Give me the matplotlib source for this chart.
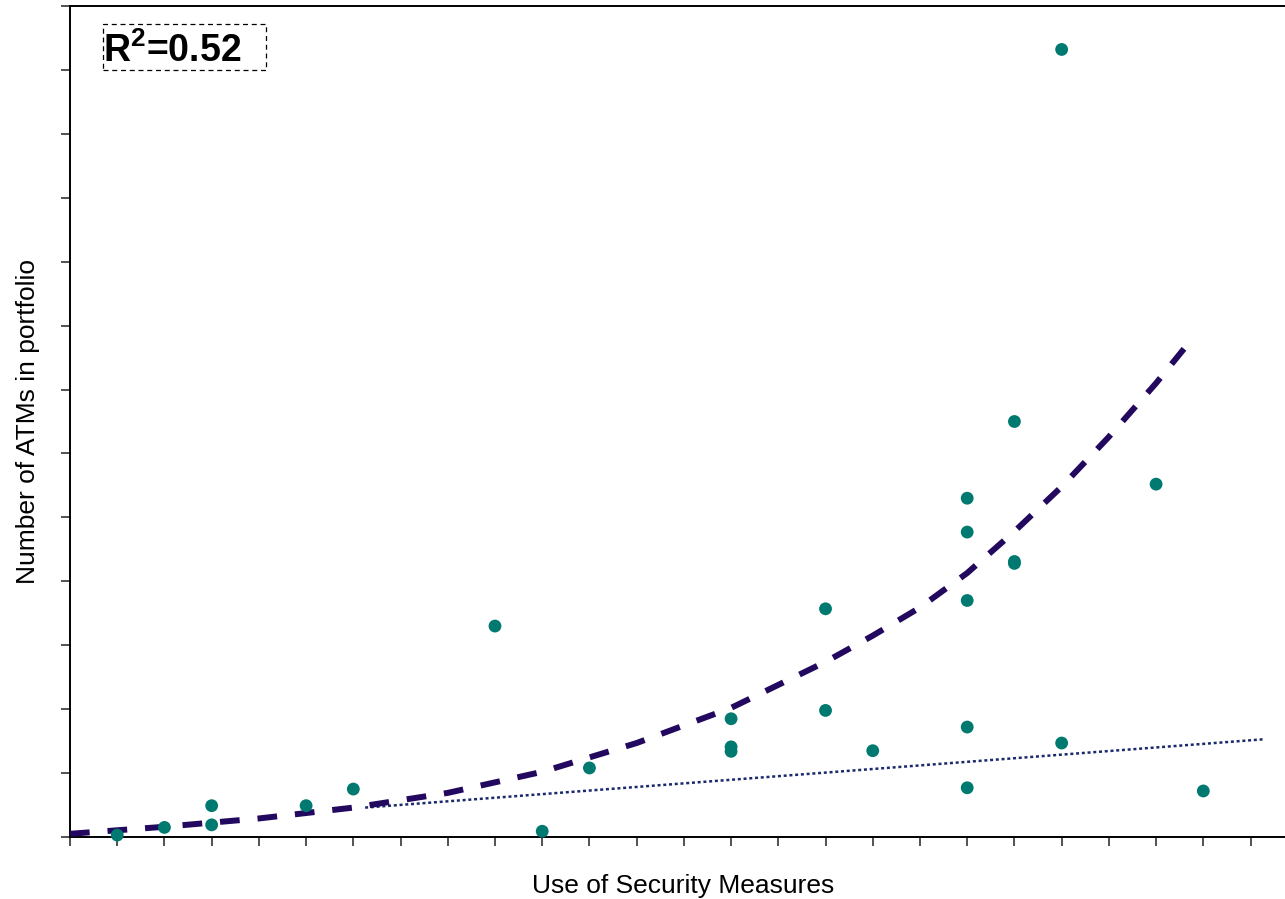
import matplotlib
matplotlib.use("Agg")
from matplotlib import pyplot as plt
from matplotlib.patches import Rectangle

plt.rcParams["font.family"] = ["Liberation Sans", "DejaVu Sans"]
plt.rcParams["mathtext.fontset"] = "custom"
plt.rcParams["mathtext.rm"] = "Liberation Sans"
plt.rcParams["mathtext.bf"] = "Liberation Sans:bold"

# scatter data
x_vals = [1, 2, 3, 3, 5, 6, 9, 10, 11, 14, 14, 14, 16, 16, 17,
          19, 19, 19, 19, 19, 20, 20, 20, 21, 21, 23, 24]
y_vals = [0.03, 0.15, 0.49, 0.19, 0.49, 0.75, 3.30, 0.09, 1.08, 1.85, 1.41, 1.34, 3.57, 1.98, 1.35,
          5.30, 4.77, 3.70, 1.72, 0.77, 6.50, 4.31, 4.28, 12.32, 1.47, 5.52, 0.72]

# curved trend line
trend_x = [0, 2, 4, 6, 8, 10, 12, 14, 16, 17, 18, 19, 20, 21, 22, 23, 23.66]
trend_y = [0.05, 0.16, 0.29, 0.46, 0.69, 1.02, 1.47, 2.02, 2.74, 3.15, 3.59, 4.13,
           4.78, 5.48, 6.26, 7.10, 7.70]

# straight trend line
lin_x = [6.25, 25.3]
lin_y = [0.46, 1.53]

r2_label = r"R$^{\mathbf{2}}$=0.52"

fig = plt.figure(figsize=(12.85, 8.99), dpi=100)
ax = fig.add_axes([70 / 1285, 62 / 899, 1215 / 1285, 831 / 899])

ax.plot(lin_x, lin_y, color="#1b2a6b", lw=1.8, linestyle=(0, (1.2, 1.1)), zorder=2)
ax.plot(trend_x, trend_y, color="#22085e", lw=4.3, linestyle=(0, (3.3, 3.0)), zorder=3)
ax.scatter(x_vals, y_vals, s=85, color="#007a70", edgecolors="none", zorder=4, clip_on=False)

ax.set_xlim(0, 25.73)
ax.set_ylim(0, 13)
ax.set_xticks(range(0, 26))
ax.set_yticks(range(0, 14))
ax.set_xticklabels([])
ax.set_yticklabels([])
ax.tick_params(direction="out", length=6.5, width=1.1, color="#222222")

ax.spines["right"].set_visible(False)
for s in ["left", "bottom", "top"]:
    ax.spines[s].set_linewidth(1.4)
    ax.spines[s].set_color("black")

ax.set_xlabel("Use of Security Measures", fontsize=19)
ax.xaxis.set_label_coords(0.5045, -0.045)
ax.set_ylabel("Number of ATMs in portfolio", fontsize=19)
ax.yaxis.set_label_coords(-0.025, 0.5)

ax.text(0.027, 0.9326, r2_label, transform=ax.transAxes, fontsize=27,
        fontweight="bold", ha="left", va="baseline")
ax.add_patch(Rectangle((0.0272, 0.923), 0.1342, 0.0553, transform=ax.transAxes,
                       fill=False, edgecolor="black", lw=0.9, linestyle=(0, (4, 3)),
                       clip_on=False))

fig.savefig("out.png", dpi=100)
